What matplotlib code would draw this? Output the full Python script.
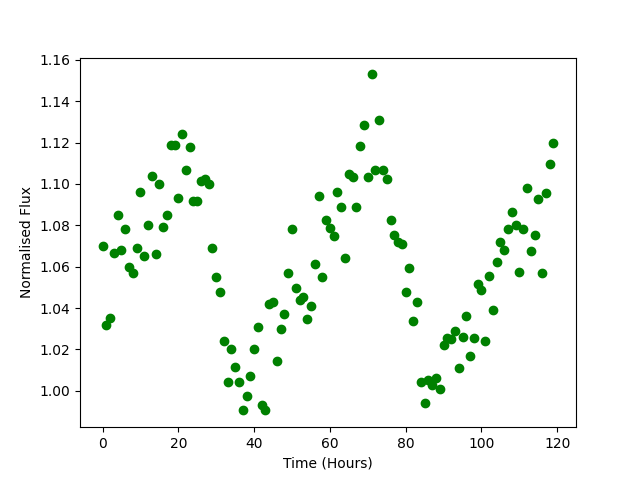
import numpy as np
import matplotlib
matplotlib.use("Agg")
import matplotlib.pyplot as plt

hours = np.arange(120)
flux = [1.070, 1.032, 1.035, 1.0665, 1.085, 1.068, 1.078, 1.060, 1.057, 1.069,
        1.096, 1.065, 1.080, 1.104, 1.066, 1.100, 1.079, 1.085, 1.119, 1.119,
        1.093, 1.124, 1.107, 1.118, 1.092, 1.092, 1.1015, 1.1025, 1.100, 1.069,
        1.055, 1.048, 1.024, 1.004, 1.020, 1.0115, 1.004, 0.9905, 0.9975, 1.007,
        1.020, 1.031, 0.993, 0.9905, 1.042, 1.043, 1.0145, 1.030, 1.037, 1.057,
        1.078, 1.0495, 1.044, 1.0455, 1.0345, 1.041, 1.0615, 1.094, 1.055, 1.0825,
        1.0785, 1.075, 1.096, 1.089, 1.064, 1.105, 1.1035, 1.089, 1.1185, 1.1285,
        1.1035, 1.153, 1.107, 1.131, 1.107, 1.1025, 1.0825, 1.0755, 1.072, 1.071,
        1.048, 1.0595, 1.0335, 1.043, 1.004, 0.994, 1.005, 1.003, 1.006, 1.001,
        1.022, 1.0255, 1.025, 1.029, 1.011, 1.026, 1.036, 1.017, 1.0255, 1.0515,
        1.0485, 1.024, 1.0555, 1.039, 1.0625, 1.072, 1.068, 1.078, 1.0865, 1.080,
        1.0575, 1.078, 1.098, 1.0675, 1.0755, 1.0925, 1.057, 1.0955, 1.1095, 1.120]

fig, ax = plt.subplots(figsize=(6.4, 4.8), dpi=100)
ax.plot(hours, flux, "go")
ax.set_xlabel("Time (Hours)")
ax.set_ylabel("Normalised Flux")
fig.savefig("out.png")
